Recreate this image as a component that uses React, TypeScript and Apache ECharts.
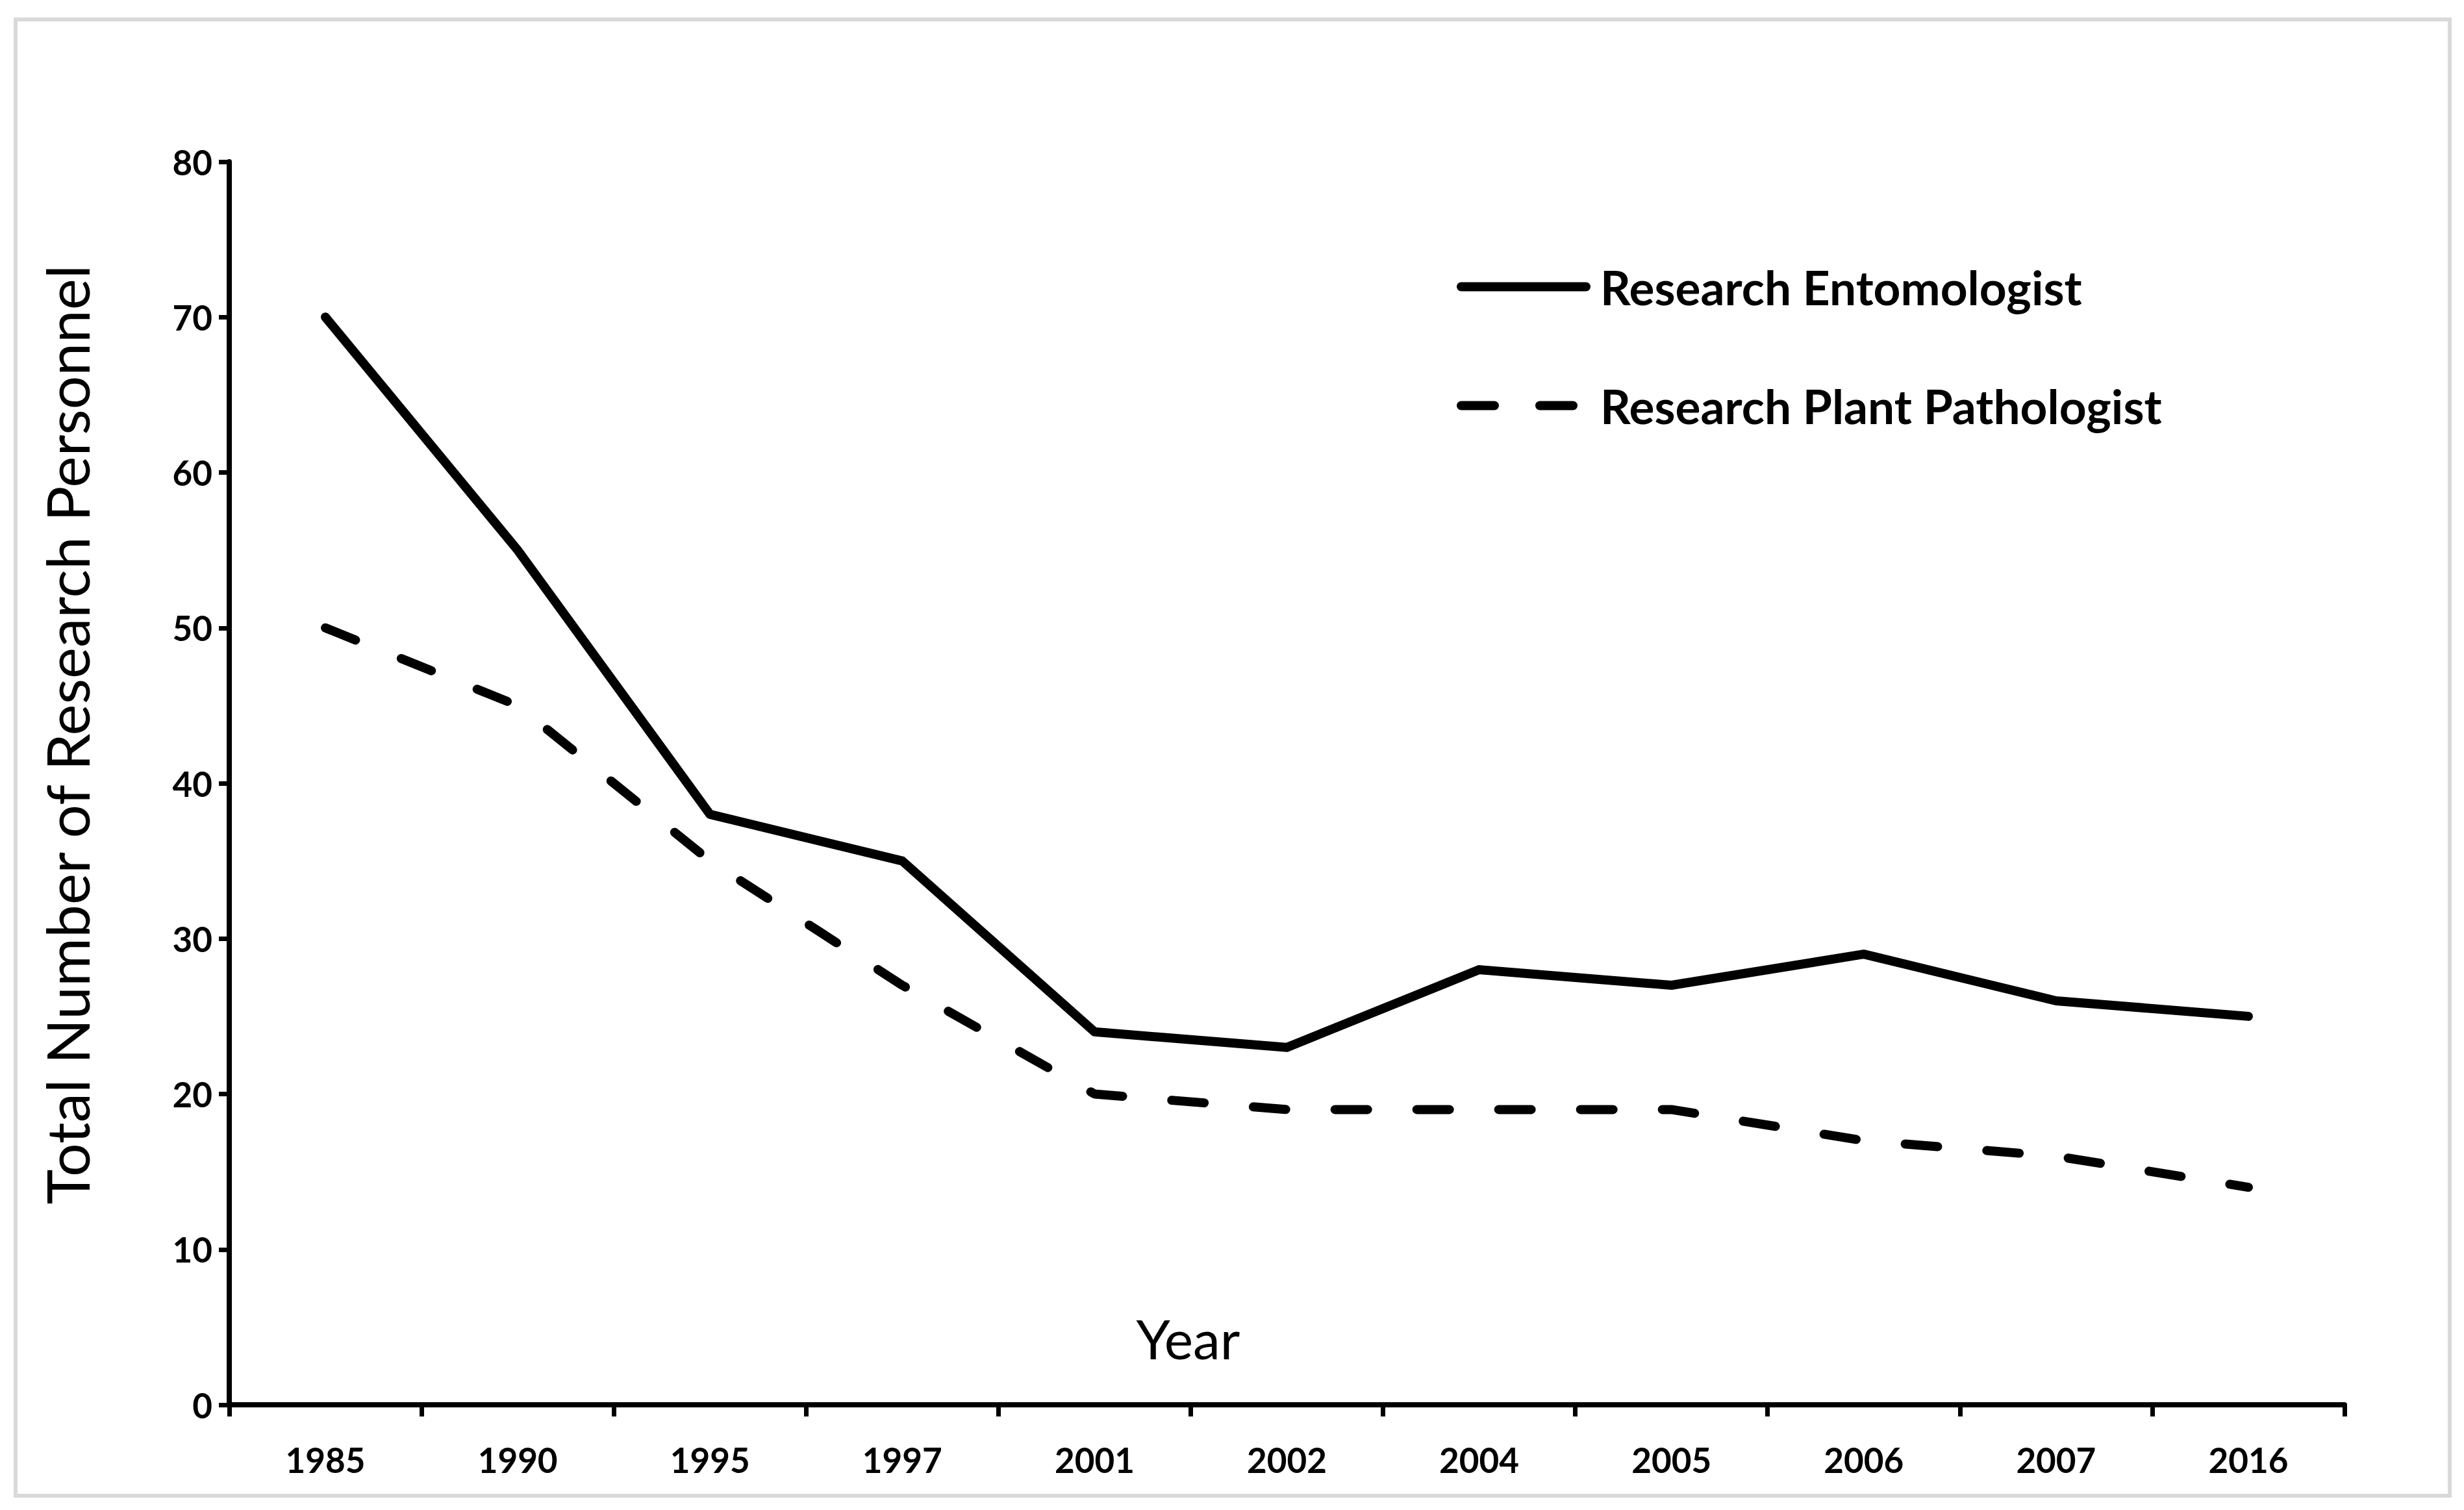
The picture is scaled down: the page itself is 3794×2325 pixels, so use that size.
import React, { useEffect, useRef } from "react";
import * as echarts from "echarts";

const years = ["1985", "1990", "1995", "1997", "2001", "2002", "2004", "2005", "2006", "2007", "2016"];
const entomologist = [70, 55, 38, 35, 24, 23, 28, 27, 29, 26, 25];
const pathologist = [50, 45, 35, 27, 20, 19, 19, 19, 17, 16, 14];
const yTicks = { min: 0, max: 80, interval: 10 };

const FONT = "Lato, 'Open Sans', sans-serif";

const SOLID_ICON = "path://M7,0 L199,0 A7,7 0 0 1 199,14 L7,14 A7,7 0 0 1 7,0 Z";
const DASH_ICON =
  "path://M7,0 L58,0 A7,7 0 0 1 58,14 L7,14 A7,7 0 0 1 7,0 Z M128,0 L179,0 A7,7 0 0 1 179,14 L128,14 A7,7 0 0 1 128,0 Z M206,6.99 L206,7 L205.99,7 Z";

export default function App() {
  const ref = useRef<HTMLDivElement>(null);
  useEffect(() => {
    if (!ref.current) return;
    const chart = echarts.init(ref.current, null, { renderer: "svg" });
    const axisLine = { show: true, lineStyle: { color: "#000", width: 8 } };
    chart.setOption({
      animation: false,
      backgroundColor: "#fff",
      graphic: [
        {
          type: "rect",
          shape: { x: 24, y: 30, width: 3748, height: 2273 },
          style: { fill: "none", stroke: "#d9d9d9", lineWidth: 6 },
          silent: true,
        },
      ],
      grid: { left: 353, top: 249, right: 184, bottom: 162, containLabel: false },
      legend: {
        orient: "vertical",
        left: 2238,
        top: 400,
        itemWidth: 206,
        itemHeight: 14,
        itemGap: 110,
        textStyle: { fontFamily: FONT, fontWeight: "bold", fontSize: 73, color: "#000", padding: [0, 0, 0, 10] },
        data: [
          { name: "Research Entomologist", icon: SOLID_ICON, itemStyle: { color: "#000" } },
          { name: "Research Plant Pathologist", icon: DASH_ICON, itemStyle: { color: "#000" } },
        ],
      },
      xAxis: {
        type: "category",
        data: years,
        boundaryGap: true,
        name: "Year",
        nameLocation: "middle",
        nameGap: -145,
        nameTextStyle: { fontFamily: FONT, fontSize: 84, color: "#000", padding: [0, 304, 0, 0] },
        axisLine,
        axisTick: { show: true, alignWithLabel: false, length: 18, lineStyle: { color: "#000", width: 7 } },
        axisLabel: { fontFamily: FONT, fontWeight: "bold", fontSize: 53, color: "#000", margin: 58 },
        splitLine: { show: false },
      },
      yAxis: {
        type: "value",
        min: yTicks.min,
        max: yTicks.max,
        interval: yTicks.interval,
        name: "Total Number of Research Personnel",
        nameLocation: "middle",
        nameGap: 205,
        nameRotate: 90,
        nameTextStyle: { fontFamily: FONT, fontSize: 91, color: "#000", padding: [0, 0, 0, 150] },
        axisLine,
        axisTick: { show: true, length: 16, lineStyle: { color: "#000", width: 7 } },
        axisLabel: { fontFamily: FONT, fontWeight: "bold", fontSize: 53, color: "#000", margin: 26 },
        splitLine: { show: false },
      },
      series: [
        {
          name: "Research Entomologist",
          type: "line",
          data: entomologist,
          symbol: "none",
          showSymbol: false,
          lineStyle: { color: "#000", width: 14, type: "solid", cap: "round", join: "round" },
          itemStyle: { color: "#000" },
        },
        {
          name: "Research Plant Pathologist",
          type: "line",
          data: pathologist,
          symbol: "none",
          showSymbol: false,
          lineStyle: { color: "#000", width: 14, type: [50, 76], cap: "round", join: "round" },
          itemStyle: { color: "#000" },
        },
      ],
    });
    return () => chart.dispose();
  }, []);
  return (
    <div
      ref={ref}
      style={{ position: "absolute", left: 0, top: 0, width: 3794, height: 2325, background: "#fff" }}
    />
  );
}
